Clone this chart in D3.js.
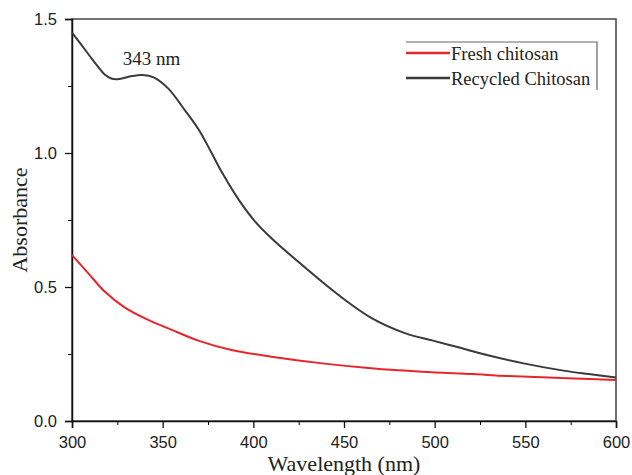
<!DOCTYPE html>
<html>
<head>
<meta charset="utf-8">
<script src="https://cdn.jsdelivr.net/npm/d3@7"></script>
<style>
body {margin:0; background:#fff;}
.tick text {font-family:"Liberation Sans", Arial, sans-serif; font-size:16.5px; fill:#222;}
.title {font-family:"Liberation Serif", "Times New Roman", serif; font-size:22px; fill:#222;}
.legtext {font-family:"Liberation Serif", "Times New Roman", serif; font-size:18.5px; fill:#222;}
</style>
</head>
<body>
<svg id="chart" width="632" height="475"></svg>
<script>
// wavelengths (nm) and absorbance
var recycledWl  = [300,305,310,314,318,322,326,333,339,345,353,362,370,377,383,392,401,410,429,447,465,484,499,512,525,549,571,585,600];
var recycledAbs = [1.449,1.405,1.360,1.325,1.293,1.277,1.276,1.287,1.291,1.282,1.241,1.162,1.086,1.000,0.924,0.825,0.744,0.682,0.570,0.470,0.385,0.327,0.300,0.277,0.253,0.215,0.188,0.175,0.162];
var freshWl  = [300,309,318,329,342,355,370,388,410,438,465,493,521,540,577,600];
var freshAbs = [0.619,0.551,0.483,0.424,0.377,0.340,0.299,0.265,0.240,0.215,0.197,0.184,0.175,0.168,0.159,0.153];

var xTicks = [300,350,400,450,500,550,600];
var yTicks = [0.0,0.5,1.0,1.5];
var legendNames = ["Fresh chitosan","Recycled Chitosan"];
var colors = ["#e8262a","#3a3a3a"];

var margins = {left:72, top:19, right:16, bottom:54};
var width = 632 - margins.left - margins.right;
var height = 475 - margins.top - margins.bottom;

var svg = d3.select("#chart");
var plot = svg.append("g")
    .attr("transform","translate("+margins.left+","+margins.top+")");

var xScale = d3.scaleLinear().domain([300,600]).range([0,width]);
var yScale = d3.scaleLinear().domain([0,1.5]).range([height,0]);

// minor ticks first
plot.append("g")
    .attr("transform","translate(0,"+height+")")
    .call(d3.axisBottom(xScale).tickValues(d3.range(325,600,50)).tickSize(4).tickFormat(""))
    .call(function(g){g.select(".domain").remove();});
plot.append("g")
    .call(d3.axisLeft(yScale).tickValues([0.25,0.75,1.25]).tickSize(4).tickFormat(""))
    .call(function(g){g.select(".domain").remove();});

// frame (top and right)
plot.append("rect")
    .attr("x",0).attr("y",0)
    .attr("width",width).attr("height",height)
    .attr("fill","none")
    .attr("stroke","#444")
    .attr("stroke-width",1.5);

var xAxis = plot.append("g")
    .attr("transform","translate(0,"+height+")")
    .call(d3.axisBottom(xScale).tickValues(xTicks).tickSize(7).tickPadding(5).tickFormat(d3.format("d")));
var yAxis = plot.append("g")
    .call(d3.axisLeft(yScale).tickValues(yTicks).tickSize(7).tickPadding(8).tickFormat(d3.format(".1f")));
[xAxis,yAxis].forEach(function(a){
    a.selectAll(".domain").attr("stroke","#111").attr("stroke-width",1.5);
    a.selectAll(".tick line").attr("stroke","#111").attr("stroke-width",1.3);
});
xAxis.selectAll(".tick text").attr("dy","0.9em");
yAxis.selectAll(".tick text").attr("dy","0.35em");

var line = d3.line()
    .x(function(d){return xScale(d[0]);})
    .y(function(d){return yScale(d[1]);})
    .curve(d3.curveCatmullRom.alpha(0.5));

var series = [d3.zip(freshWl,freshAbs), d3.zip(recycledWl,recycledAbs)];
plot.selectAll(".series")
    .data(series)
    .enter()
    .append("path")
    .attr("class","series")
    .attr("d",line)
    .attr("fill","none")
    .attr("stroke",function(d,i){return colors[i];})
    .attr("stroke-width",2);

// peak label
plot.append("text")
    .attr("class","legtext")
    .style("font-size","19px")
    .attr("x",xScale(328))
    .attr("y",yScale(1.33))
    .text("343 nm");

// legend
var legend = svg.append("g").attr("class","legend");
legend.append("path")
    .attr("d","M406,42H597V90")
    .attr("fill","none")
    .attr("stroke","#666")
    .attr("stroke-width",1.2);
legend.selectAll(".legline")
    .data(legendNames)
    .enter()
    .append("line")
    .attr("x1",406).attr("x2",450)
    .attr("y1",function(d,i){return 53+i*25;})
    .attr("y2",function(d,i){return 53+i*25;})
    .attr("stroke",function(d,i){return colors[i];})
    .attr("stroke-width",2.5);
legend.selectAll(".legtext")
    .data(legendNames)
    .enter()
    .append("text")
    .attr("class","legtext")
    .attr("x",451)
    .attr("y",function(d,i){return 60+i*25;})
    .text(function(d){return d;});

// axis titles
svg.append("text")
    .attr("class","title")
    .attr("text-anchor","middle")
    .attr("x",margins.left+width/2)
    .attr("y",471)
    .text("Wavelength (nm)");
svg.append("g")
    .attr("transform","translate(27,"+(margins.top+height/2)+")")
    .append("text")
    .attr("class","title")
    .attr("text-anchor","middle")
    .attr("transform","rotate(-90)")
    .text("Absorbance");
</script>
</body>
</html>
